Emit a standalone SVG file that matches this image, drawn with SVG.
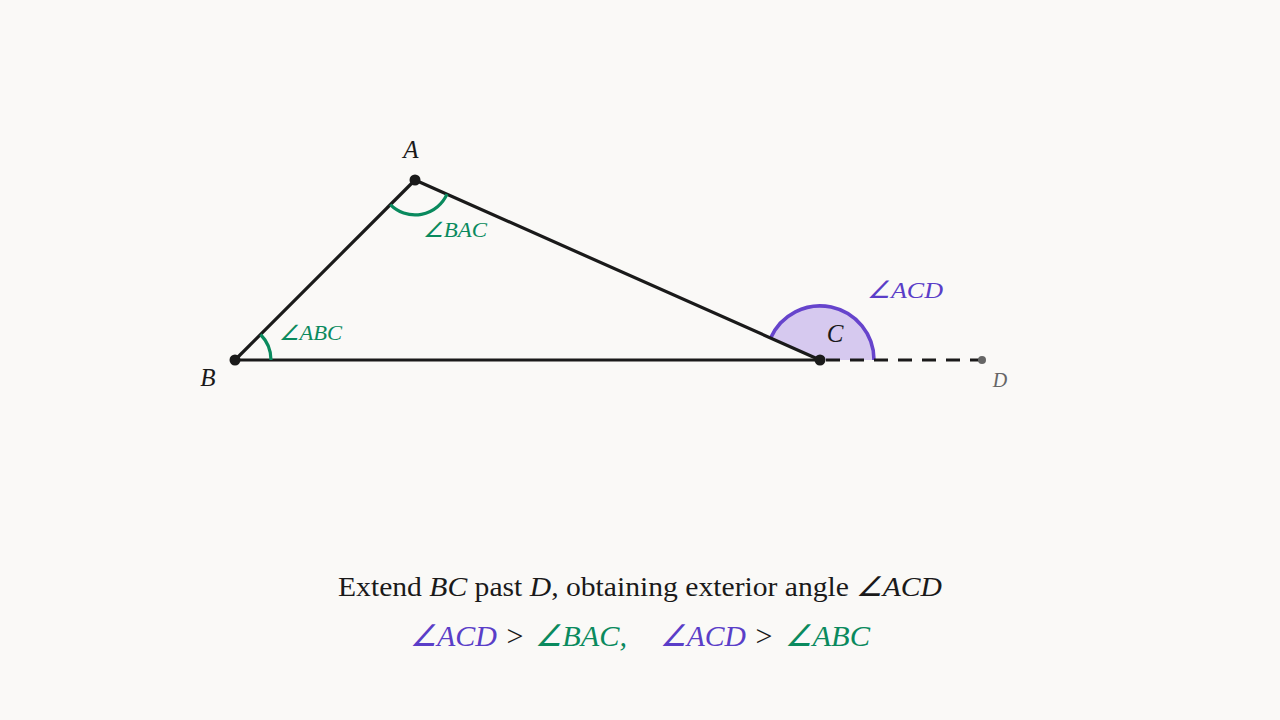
<svg xmlns="http://www.w3.org/2000/svg" width="1280" height="720" viewBox="0 0 1280 720">
<style>
.edge{stroke:#1a1a1a;stroke-width:3.2;fill:none;stroke-linecap:round}
.dash{stroke:#1a1a1a;stroke-width:3.2;fill:none;stroke-dasharray:14 10}
.arcg{stroke:#0a8a5e;stroke-width:3.2;fill:none}
.sector{stroke:none;fill:#d6c9ef}
.arcp{stroke:#6644cc;stroke-width:3.6;fill:none}
.lbl{font-family:"Liberation Serif",serif;font-style:italic;fill:#1a1a1a}
.txt{font-family:"Liberation Serif",serif;fill:#1a1a1a}
.it{font-style:italic}
.gr{fill:#0a8a5e}
.pu{fill:#5a3ec8}
.gy{fill:#666}
</style>
<rect width="1280" height="720" fill="#faf9f7"/>
<g id="connectors">
<path class="sector" d="M820,360 L770.6,338.1 A54,54 0 0 1 874,360 Z"/>
<path class="arcp" d="M770.6,338.1 A54,54 0 0 1 874,360"/>
<line class="edge" x1="415" y1="180" x2="235" y2="360"/>
<line class="edge" x1="415" y1="180" x2="820" y2="360"/>
<line class="edge" x1="235" y1="360" x2="820" y2="360"/>
<line class="dash" x1="826" y1="360" x2="980" y2="360"/>
<path class="arcg" d="M390.3,204.7 A35,35 0 0 0 447,194.2"/>
<path class="arcg" d="M260.5,334.5 A36,36 0 0 1 271,360"/>
</g>
<g id="node-A">
<circle cx="415" cy="180" r="5.5" fill="#1a1a1a"/>
<text class="lbl" x="411" y="158" font-size="25" text-anchor="middle">A</text>
</g>
<g id="node-B">
<circle cx="235" cy="360" r="5.5" fill="#1a1a1a"/>
<text class="lbl" x="208" y="386" font-size="25" text-anchor="middle">B</text>
</g>
<g id="node-C">
<circle cx="820" cy="360" r="5.5" fill="#1a1a1a"/>
<text class="lbl" x="835" y="342" font-size="25" text-anchor="middle">C</text>
</g>
<g id="node-D">
<circle cx="982" cy="360" r="4" fill="#666"/>
<text class="lbl gy" x="1000" y="387" font-size="20" text-anchor="middle">D</text>
</g>
<g id="angle-labels">
<text class="lbl gr" x="423" y="237" font-size="21" textLength="64" lengthAdjust="spacingAndGlyphs">∠BAC</text>
<text class="lbl gr" x="279" y="340" font-size="21" textLength="63" lengthAdjust="spacingAndGlyphs">∠ABC</text>
<text class="lbl pu" x="867" y="298" font-size="24" textLength="76" lengthAdjust="spacingAndGlyphs">∠ACD</text>
</g>
<g id="caption">
<text class="txt" x="338" y="596" font-size="27" textLength="604" lengthAdjust="spacingAndGlyphs">Extend <tspan class="it">BC</tspan> past <tspan class="it">D</tspan>, obtaining exterior angle <tspan class="it">∠ACD</tspan></text>
<text class="txt it pu" x="410" y="646" font-size="30" textLength="87" lengthAdjust="spacingAndGlyphs">∠ACD</text>
<text class="txt" x="515" y="646" font-size="30" text-anchor="middle">&gt;</text>
<text class="txt it gr" x="535" y="646" font-size="30" textLength="92" lengthAdjust="spacingAndGlyphs">∠BAC,</text>
<text class="txt it pu" x="660" y="646" font-size="30" textLength="86" lengthAdjust="spacingAndGlyphs">∠ACD</text>
<text class="txt" x="764" y="646" font-size="30" text-anchor="middle">&gt;</text>
<text class="txt it gr" x="785" y="646" font-size="30" textLength="85" lengthAdjust="spacingAndGlyphs">∠ABC</text>
</g>
</svg>
